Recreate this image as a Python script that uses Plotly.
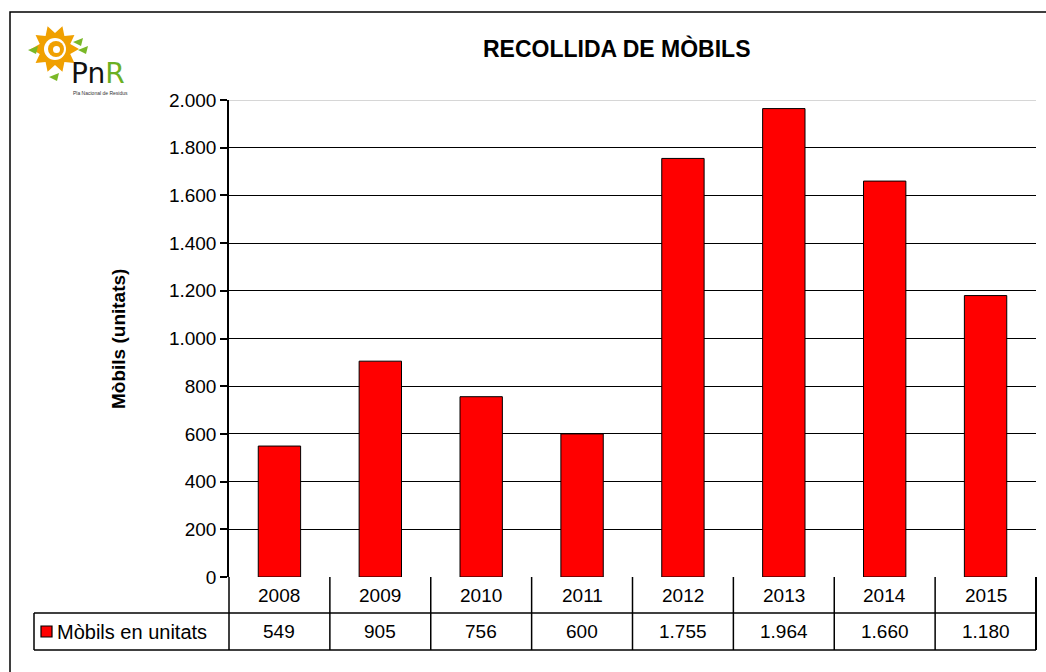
import math
import plotly.graph_objects as go

# ---- data ----
years = ["2008", "2009", "2010", "2011", "2012", "2013", "2014", "2015"]
mobils = [549, 905, 756, 600, 1755, 1964, 1660, 1180]
value_labels = ["549", "905", "756", "600", "1.755", "1.964", "1.660", "1.180"]
series_name = "Mòbils en unitats"
title_text = "RECOLLIDA DE MÒBILS"
y_title = "Mòbils (unitats)"
y_ticks = list(range(0, 2001, 200))

W, H = 1046, 672
L, R, T, B = 229, 10, 100, 95
PW, PH = W - L - R, H - T - B


def px(x):
    return (x - L) / PW


def py(y):
    return (H - B - y) / PH


FONT = "Liberation Sans, Arial, sans-serif"
FS = 19

fig = go.Figure()
fig.add_trace(go.Bar(
    x=years, y=mobils, name=series_name,
    marker=dict(color="#ff0000", line=dict(color="black", width=1)),
    width=0.42, showlegend=False, hoverinfo="skip",
))

shapes = []
annotations = []

# light top gridline at 2000
shapes.append(dict(type="line", xref="paper", yref="y", x0=0, x1=1, y0=2000, y1=2000,
                   line=dict(color="#c8c8c8", width=1.5), layer="above"))

# outer chart border
shapes.append(dict(type="rect", xref="paper", yref="paper",
                   x0=px(10), x1=px(1060), y0=py(690), y1=py(12),
                   line=dict(color="black", width=1.5)))

# data table lines
y_row1 = py(613)
y_row2 = py(650)
n = len(years)
for yy in (y_row1, y_row2):
    shapes.append(dict(type="line", xref="paper", yref="paper",
                       x0=px(34), x1=1, y0=yy, y1=yy,
                       line=dict(color="black", width=1.5)))
for i in range(n + 1):
    shapes.append(dict(type="line", xref="paper", yref="paper",
                       x0=i / n, x1=i / n, y0=0, y1=y_row2,
                       line=dict(color="black", width=2 if i == n else 1.5)))
shapes.append(dict(type="line", xref="paper", yref="paper",
                   x0=px(34), x1=px(34), y0=y_row1, y1=y_row2,
                   line=dict(color="black", width=1.5)))

for i, (yr, lab) in enumerate(zip(years, value_labels)):
    xc = (i + 0.5) / n
    annotations.append(dict(x=xc, xref="paper", y=(0 + y_row1) / 2, yref="paper",
                            xanchor="center", yanchor="middle",
                            text=yr, showarrow=False,
                            font=dict(family=FONT, size=FS, color="black")))
    annotations.append(dict(x=xc, xref="paper", y=(y_row1 + y_row2) / 2, yref="paper",
                            xanchor="center", yanchor="middle",
                            text=lab, showarrow=False,
                            font=dict(family=FONT, size=FS, color="black")))

# legend key in table
shapes.append(dict(type="rect", xref="paper", yref="paper",
                   x0=px(41), x1=px(52), y0=py(637), y1=py(626),
                   fillcolor="#ff0000", line=dict(color="black", width=1.2)))
annotations.append(dict(x=px(55), y=(y_row1 + y_row2) / 2, xref="paper", yref="paper",
                        xanchor="left", yanchor="middle", text=series_name, showarrow=False,
                        font=dict(family=FONT, size=20, color="black")))

# title and y-axis title
annotations.append(dict(x=px(616), y=py(48), xref="paper", yref="paper",
                        xanchor="center", yanchor="middle",
                        text="<b>" + title_text + "</b>", showarrow=False,
                        font=dict(family=FONT, size=23, color="black")))
annotations.append(dict(x=px(118), y=py(339), xref="paper", yref="paper",
                        xanchor="center", yanchor="middle",
                        text="<b>" + y_title + "</b>", showarrow=False, textangle=-90,
                        font=dict(family=FONT, size=FS, color="black")))

# ---- logo (approximate) ----
cx, cy = 55, 49
pts = []
for k in range(20):
    ang = math.pi * 2 * k / 20
    r = 24 if k % 2 == 0 else 16
    pts.append((cx + r * math.cos(ang), cy + r * math.sin(ang)))
path = "M " + " L ".join(f"{px(a):.5f},{py(b):.5f}" for a, b in pts) + " Z"
shapes.append(dict(type="path", xref="paper", yref="paper", path=path,
                   fillcolor="#f0a000", line=dict(color="#f0a000", width=0)))
shapes.append(dict(type="circle", xref="paper", yref="paper",
                   x0=px(cx - 11), x1=px(cx + 11), y0=py(cy + 11), y1=py(cy - 11),
                   fillcolor="white", line=dict(color="white", width=0)))
shapes.append(dict(type="circle", xref="paper", yref="paper",
                   x0=px(cx - 7), x1=px(cx + 9), y0=py(cy + 8), y1=py(cy - 8),
                   fillcolor="#f0a000", line=dict(color="#f0a000", width=0)))
shapes.append(dict(type="circle", xref="paper", yref="paper",
                   x0=px(cx - 2), x1=px(cx + 5), y0=py(cy + 4), y1=py(cy - 3),
                   fillcolor="white", line=dict(color="white", width=0)))
for (lx, ly) in [(33, 50), (83, 50), (54, 77), (78, 42)]:
    shapes.append(dict(type="path", xref="paper", yref="paper",
                       path=f"M {px(lx-5):.5f},{py(ly):.5f} L {px(lx+5):.5f},{py(ly-4):.5f} L {px(lx+3):.5f},{py(ly+4):.5f} Z",
                       fillcolor="#7ab828", line=dict(color="#7ab828", width=0)))
annotations.append(dict(x=px(69), y=py(73), xref="paper", yref="paper",
                        xanchor="left", yanchor="middle",
                        text="<span style='color:#111'>Pn</span><span style='color:#6ab023'>R</span>",
                        showarrow=False, font=dict(family="DejaVu Sans", size=28)))
annotations.append(dict(x=px(71), y=py(93), xref="paper", yref="paper",
                        xanchor="left", yanchor="middle",
                        text="Pla Nacional de Residus", showarrow=False,
                        font=dict(family=FONT, size=5, color="#333")))

fig.update_layout(
    width=W, height=H,
    margin=dict(l=L, r=R, t=T, b=B, pad=0),
    plot_bgcolor="white", paper_bgcolor="white",
    separators=",.",
    hovermode=False,
    shapes=shapes, annotations=annotations,
    font=dict(family=FONT, size=FS, color="black"),
    xaxis=dict(type="category", range=[-0.5, n - 0.5], showticklabels=False,
               showgrid=False, zeroline=False, showline=False, ticks=""),
    yaxis=dict(range=[0, 2000], tickvals=y_ticks, tickformat=",d",
               showgrid=True, gridcolor="black", gridwidth=1,
               zeroline=False, showline=True, linecolor="black", linewidth=1.5,
               ticks="outside", ticklen=7, tickcolor="black", tickwidth=1.5,
               tickfont=dict(family=FONT, size=FS, color="black")),
)

fig.write_html("out.html", config={"displayModeBar": False},
               post_script="document.body.style.margin='0';document.body.style.overflow='hidden';")
